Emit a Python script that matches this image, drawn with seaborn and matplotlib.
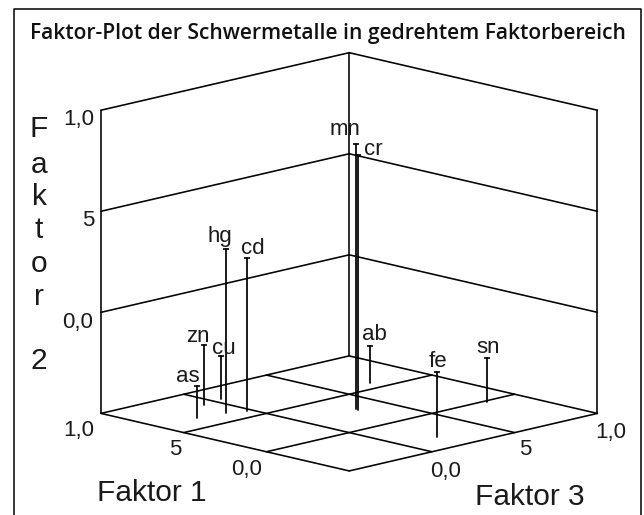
import matplotlib
matplotlib.use('Agg')
import matplotlib.pyplot as plt
from matplotlib.lines import Line2D
from mpl_toolkits.mplot3d import proj3d
import pandas as pd
import seaborn as sns

# Faktorladungen
metalle = ['hg', 'cd', 'zn', 'cu', 'as', 'mn', 'cr', 'ab', 'fe', 'sn']
faktor1 = [0.628, 0.590, 0.800, 0.820, 0.652, 0.289, 0.268, 0.584, -0.323, -0.017]
faktor3 = [-0.116, -0.026, -0.080, 0.043, -0.269, 0.328, 0.322, 0.712, 0.210, 0.817]
faktor2 = [0.312, 0.257, -0.203, -0.287, -0.342, 0.812, 0.762, -0.317, -0.178, -0.282]

# Versatz der Beschriftung zum Punkt, in Pixeln
label_dx = [-6, 6, -6, 3, -9, -11, 15, 4, 1, 1]
label_dy = [12, 9, 8, 8, 9, 14, 5, 11, 10, 10]

achse = [-0.5, 0.0, 0.5, 1.0]
tick_werte = [1.0, 0.5, 0.0]
tick_namen = ['1,0', '5', '0,0']
z_dx = [-22, -13, -23]
z_dy = [-9, -9, -10]
f1_dx = [-22, -8, -20]
f1_dy = [-17, -17, -18]
f3_dx = [13, 11, 14]
f3_dy = [-19, -17, -20]

df = pd.DataFrame({'metall': metalle, 'f1': faktor1, 'f2': faktor2, 'f3': faktor3})

sns.set_theme(style='white', font='Liberation Sans')
plt.rcParams['font.family'] = ['Liberation Sans', 'DejaVu Sans']

W, H = 644, 515
fig = plt.figure(figsize=(W / 100, H / 100), dpi=100)
size = 569
ax = fig.add_axes([57 / W, -39 / H, size / W, size / H], projection='3d', proj_type='ortho')
ax.computed_zorder = False
ax.view_init(elev=13.4, azim=-135)
ax.set_box_aspect((1, 1, 0.888))
ax.set_xlim(-0.5, 1)
ax.set_ylim(-0.5, 1)
ax.set_zlim(-0.5, 1)
ax.set_axis_off()
ax.patch.set_alpha(0)

lw = 1.15
unten, oben = achse[0], achse[-1]


def beschrifte(x, y, z, text, dx, dy, groesse=16):
    # 3D-Punkt auf die Bildebene, dann Versatz in Pixeln
    px, py, _ = proj3d.proj_transform(x, y, z, ax.get_proj())
    ax.annotate(text, (px, py), xytext=(dx, dy), textcoords='offset pixels',
                ha='center', va='center', fontsize=groesse, color='#1a1a1a')


# Boden
for a in achse:
    ax.plot([a, a], [unten, oben], [unten, unten], color='black', lw=lw)
    ax.plot([unten, oben], [a, a], [unten, unten], color='black', lw=lw)

# Waende
for a in achse[1:]:
    ax.plot([unten, oben], [oben, oben], [a, a], color='black', lw=lw)
    ax.plot([oben, oben], [unten, oben], [a, a], color='black', lw=lw)
ax.plot([unten, unten], [oben, oben], [unten, oben], color='black', lw=lw)
ax.plot([oben, oben], [oben, oben], [unten, oben], color='black', lw=lw)
ax.plot([oben, oben], [unten, unten], [unten, oben], color='black', lw=lw)

# Punkte mit Lot auf den Boden
for i, row in df.iterrows():
    ax.plot([row.f3, row.f3], [row.f1, row.f1], [unten, row.f2], color='black', lw=1.25)
    ax.plot([row.f3], [row.f1], [row.f2], marker='_', ms=4.5, mew=1.2, color='black')
    beschrifte(row.f3, row.f1, row.f2, row.metall, label_dx[i], label_dy[i])

# Tick-Beschriftung
for i, name in enumerate(tick_namen):
    v = tick_werte[i]
    beschrifte(unten, oben, v, name, z_dx[i], z_dy[i])
    beschrifte(unten, v, unten, name, f1_dx[i], f1_dy[i])
    beschrifte(v, unten, unten, name, f3_dx[i], f3_dy[i])

# Achsentitel
fig.text(152 / W, 1 - 493 / H, 'Faktor 1', ha='center', va='center', fontsize=21.5, color='#1a1a1a')
fig.text(530 / W, 1 - 497 / H, 'Faktor 3', ha='center', va='center', fontsize=21.5, color='#1a1a1a')
buchstaben = ['F', 'a', 'k', 't', 'o', 'r', '2']
buchstaben_y = [129, 165, 197, 230, 264, 297, 361]
for b, y in zip(buchstaben, buchstaben_y):
    fig.text(39 / W, 1 - y / H, b, ha='center', va='center', fontsize=21.5, color='#1a1a1a')

fig.text(328 / W, 1 - 33 / H, 'Faktor-Plot der Schwermetalle in gedrehtem Faktorbereich',
         ha='center', va='center', fontsize=15.15, fontweight='semibold',
         family=['Open Sans', 'DejaVu Sans'], color='#111111')

# Rahmen, unten offen
rahmen_x = [14, 14, 641, 641]
rahmen_y = [515, 9, 9, 515]
fig.add_artist(Line2D([x / W for x in rahmen_x], [1 - y / H for y in rahmen_y],
                      color='black', lw=1.1, transform=fig.transFigure))

fig.savefig('out.png', dpi=100)
